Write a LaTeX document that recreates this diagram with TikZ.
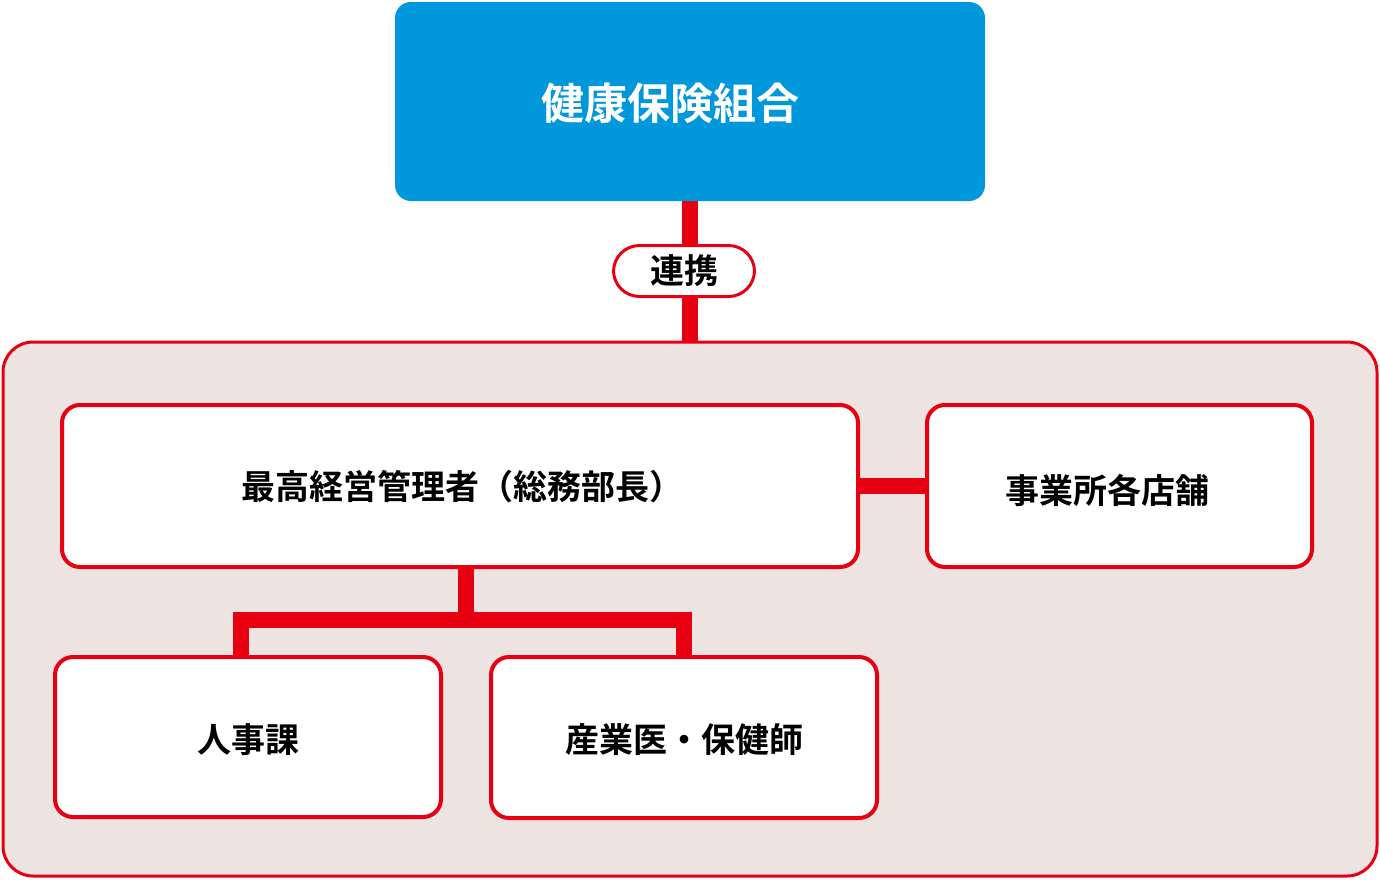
\documentclass[tikz,border=0pt]{standalone}
\usepackage{fontspec}
\setmainfont{Noto Sans CJK JP Bold}
\begin{document}
\begin{tikzpicture}[x=1pt,y=-1pt,
  redbox/.style={draw=red0,line width=4pt,fill=white,rounded corners=18pt},
  conn/.style={draw=red0,line width=16pt},
  lab/.style={font=\fontsize{34}{36}\selectfont}]
\definecolor{red0}{HTML}{E60012}
\definecolor{blue0}{HTML}{0097DB}
\definecolor{bg0}{HTML}{EDE3E0}
\useasboundingbox (0,0) rectangle (1380,879);
\draw[conn] (690,200) -- (690,344);
\node[draw=red0,line width=3pt,fill=white,rounded corners=26pt,minimum width=141pt,minimum height=51pt,inner sep=0pt,lab] (lbl) at (684,271) {連携};
\draw[draw=red0,line width=3pt,fill=bg0,rounded corners=30pt] (3,342) rectangle (1377,876);
\fill[blue0,rounded corners=16pt] (395,2) rectangle (985,201);
\node[text=white,font=\fontsize{43}{46}\selectfont] (top) at (670,103) {健康保険組合};
\draw[conn] (858,486) -- (927,486);
\draw[conn] (466,565) -- (466,620);
\draw[conn] (241,659) -- (241,620) -- (684,620) -- (684,659);
\draw[redbox] (62,405) rectangle (858,567);
\node[lab] (a) at (462,487) {最高経営管理者（総務部長）};
\draw[redbox] (927,405) rectangle (1312,567);
\node[lab] (b) at (1107,490) {事業所各店舗};
\draw[redbox] (55,657) rectangle (441,817);
\node[lab] (c) at (248,740) {人事課};
\draw[redbox] (491,657) rectangle (877,818);
\node[lab] (d) at (684,740) {産業医・保健師};
\end{tikzpicture}
\end{document}
